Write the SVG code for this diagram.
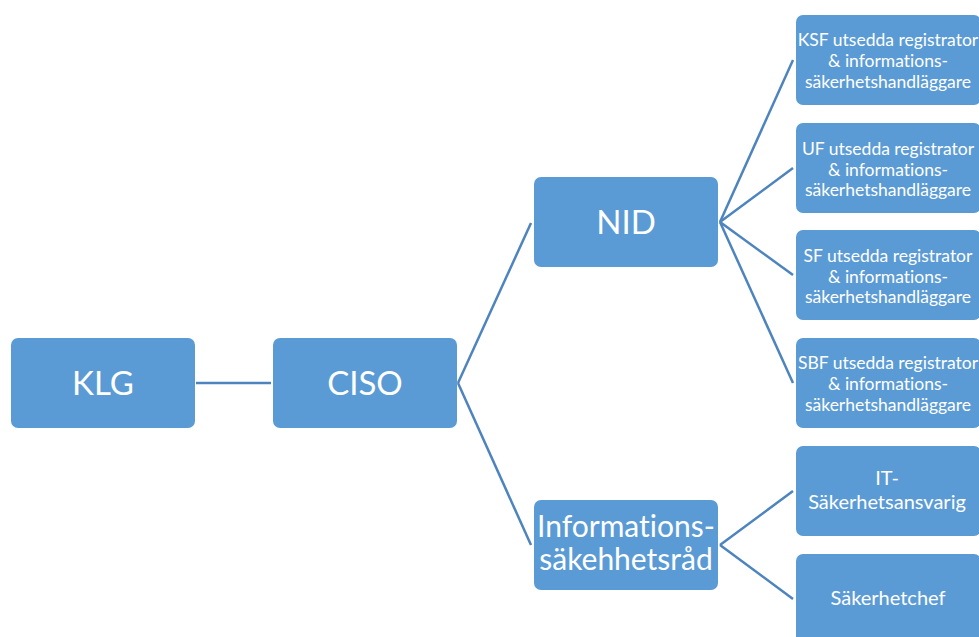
<svg xmlns="http://www.w3.org/2000/svg" width="979" height="637" viewBox="0 0 979 637">
<style>
  .box { fill: #5B9BD5; }
  .lbl { fill: #FFFFFF; font-family: Lato, "Open Sans", "Liberation Sans", sans-serif; text-anchor: middle; font-variant-ligatures: none; }
  .big { font-size: 33px; }
  .mid { font-size: 30px; }
  .sm { font-size: 17.5px; }
  .it { font-size: 20px; }
  .conn line { stroke: #4E84BE; stroke-width: 2.5; fill: none; }
</style>
<rect width="979" height="637" fill="#FFFFFF"/>
<g id="connectors" class="conn">
  <line x1="196" y1="383" x2="271" y2="383"/>
  <line x1="458" y1="383" x2="531" y2="223"/>
  <line x1="458" y1="383" x2="531" y2="545"/>
  <line x1="720" y1="222" x2="793" y2="60"/>
  <line x1="720" y1="222" x2="793" y2="168"/>
  <line x1="720" y1="222" x2="793" y2="275"/>
  <line x1="720" y1="222" x2="793" y2="383"/>
  <line x1="720" y1="545" x2="793" y2="491"/>
  <line x1="720" y1="545" x2="793" y2="599"/>
</g>
<g id="klg">
  <rect class="box" x="11" y="338" width="184" height="90" rx="7"/>
  <text class="lbl big" x="103" y="394.5">KLG</text>
</g>
<g id="ciso">
  <rect class="box" x="273" y="338" width="184" height="90" rx="7"/>
  <text class="lbl big" x="365" y="394.5">CISO</text>
</g>
<g id="nid">
  <rect class="box" x="534" y="177" width="184" height="90" rx="7"/>
  <text class="lbl big" x="626" y="233.5">NID</text>
</g>
<g id="infosak">
  <rect class="box" x="534" y="500" width="184" height="90" rx="7"/>
  <text class="lbl mid" x="626" y="537">Informations-</text>
  <text class="lbl mid" x="626" y="570">säkehhetsråd</text>
</g>
<g id="ksf">
  <rect class="box" x="796" y="15" width="185" height="90" rx="7"/>
  <text class="lbl sm" x="888" y="46">KSF utsedda registrator</text>
  <text class="lbl sm" x="888" y="67">&amp; informations-</text>
  <text class="lbl sm" x="888" y="87.5">säkerhetshandläggare</text>
</g>
<g id="uf">
  <rect class="box" x="796" y="123" width="185" height="90" rx="7"/>
  <text class="lbl sm" x="888" y="154.5">UF utsedda registrator</text>
  <text class="lbl sm" x="888" y="175.5">&amp; informations-</text>
  <text class="lbl sm" x="888" y="196">säkerhetshandläggare</text>
</g>
<g id="sf">
  <rect class="box" x="796" y="230" width="185" height="90" rx="7"/>
  <text class="lbl sm" x="888" y="261.5">SF utsedda registrator</text>
  <text class="lbl sm" x="888" y="282.5">&amp; informations-</text>
  <text class="lbl sm" x="888" y="303">säkerhetshandläggare</text>
</g>
<g id="sbf">
  <rect class="box" x="796" y="338" width="185" height="90" rx="7"/>
  <text class="lbl sm" x="888" y="369">SBF utsedda registrator</text>
  <text class="lbl sm" x="888" y="390">&amp; informations-</text>
  <text class="lbl sm" x="888" y="410.5">säkerhetshandläggare</text>
</g>
<g id="itsak">
  <rect class="box" x="796" y="446" width="185" height="90" rx="7"/>
  <text class="lbl it" x="887" y="485">IT-</text>
  <text class="lbl it" x="887" y="509">Säkerhetsansvarig</text>
</g>
<g id="sakchef">
  <rect class="box" x="796" y="554" width="185" height="90" rx="7"/>
  <text class="lbl it" x="888" y="605">Säkerhetchef</text>
</g>
</svg>
